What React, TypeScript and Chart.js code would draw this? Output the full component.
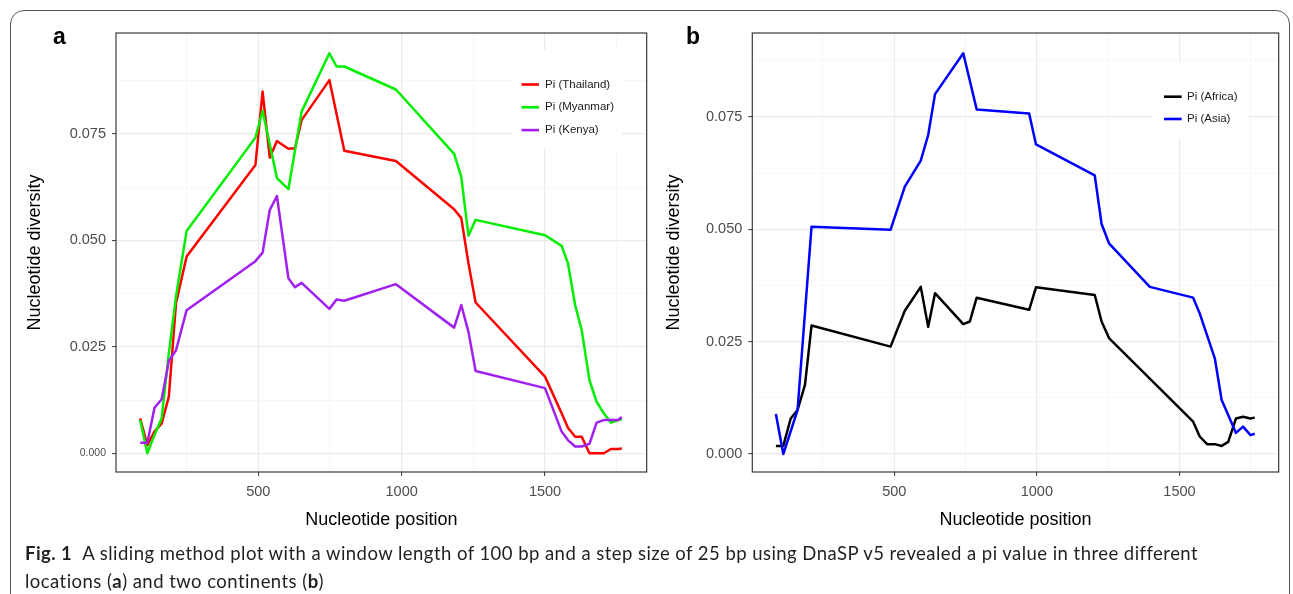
import React, { useEffect, useRef } from "react";
import Chart from "chart.js/auto";

const FONT = "'Liberation Sans', Arimo, Helvetica, Arial, sans-serif";

// sliding-window positions (bp) and pi values, panel a
const positionsA = [
  88, 113, 138, 163, 188, 213, 250, 490, 515, 540, 565, 605, 628, 651, 748, 773, 800, 980,
  1183, 1208, 1233, 1258, 1500, 1558, 1580, 1605, 1628, 1655, 1680, 1705, 1730, 1755, 1768,
];
const piThailand = [
  0.0082, 0.0019, 0.0051, 0.007, 0.0133, 0.0352, 0.0462, 0.0677, 0.0849, 0.0694, 0.0733, 0.0715,
  0.0716, 0.0782, 0.0876, null, 0.071, 0.0686, 0.0573, 0.0552, 0.0446, 0.0354, 0.018, 0.0094,
  0.006, 0.0039, 0.0039, 0.0, 0.0, 0.0, 0.001, 0.001, 0.0011,
];
const piMyanmar = [
  0.0078, 0.0, 0.0043, 0.0082, 0.0235, 0.0368, 0.0522, 0.0741, 0.0804, null, 0.0646, 0.062,
  null, 0.0802, 0.0939, 0.0908, 0.0908, 0.0854, 0.0703, 0.0649, 0.0511, 0.0548, 0.0512, 0.0487,
  0.0446, 0.0348, 0.0289, 0.0172, 0.0121, 0.0094, 0.0072, 0.0078, 0.008,
];
const piKenya = [
  0.0025, 0.0025, 0.0107, 0.0127, 0.0217, 0.0242, 0.0336, 0.0451, 0.0471, 0.0571, 0.0604,
  0.0411, 0.039, 0.04, 0.0339, 0.0361, 0.0358, 0.0397, 0.0295, 0.0348, 0.0285, 0.0193, 0.0153,
  0.0051, 0.0031, 0.0016, 0.0016, 0.0022, 0.0072, 0.0078, 0.0078, 0.0078, 0.0085,
];

// panel b
const positionsB = [
  85, 111, 137, 161, 187, 210, 487, 537, 593, 619, 643, 742, 765, 789, 973, 997, 1203, 1227,
  1253, 1396, 1548, 1571, 1597, 1624, 1648, 1671, 1698, 1723, 1749, 1764,
];
const piAfrica = [
  0.0018, 0.0018, 0.0079, 0.0098, 0.0154, 0.0286, 0.0239, 0.0319, 0.0372, 0.0283, 0.0358,
  0.0289, 0.0295, 0.0348, 0.0321, 0.0371, 0.0354, 0.0295, 0.0258, null, 0.0072, 0.0039, 0.0022,
  0.0022, 0.0018, 0.0027, 0.0079, 0.0083, 0.0079, 0.0081,
];
const piAsia = [
  0.0089, 0.0, null, 0.0098, null, 0.0506, 0.0499, 0.0595, 0.0653, 0.071, 0.0801, 0.0892, null,
  0.0767, 0.0758, 0.0689, 0.062, 0.0512, 0.0469, 0.0372, 0.0348, 0.0313, null, 0.0213, 0.012,
  0.0087, 0.0047, 0.0061, 0.0042, 0.0045,
];

const xTicks = [250, 500, 750, 1000, 1250, 1500, 1750];
const yTicks = [0, 0.0125, 0.025, 0.0375, 0.05, 0.0625, 0.075, 0.0875];

const isMajorX = (v: number) => v % 500 === 0;
const isMajorY = (v: number) => Math.abs(v / 0.025 - Math.round(v / 0.025)) < 1e-6;

// panel border drawn over the lines, like ggplot's panel.border
const panelBorder = {
  id: "panelBorder",
  afterDatasetsDraw(chart: any) {
    const { ctx, chartArea: a } = chart;
    ctx.save();
    ctx.strokeStyle = "#3a3a3a";
    ctx.lineWidth = 1.2;
    ctx.strokeRect(a.left, a.top, a.right - a.left, a.bottom - a.top);
    ctx.restore();
  },
};

// legend sitting inside the plot on a white box
const insetLegend = {
  id: "insetLegend",
  afterDraw(chart: any, _args: any, opts: any) {
    if (!opts || !opts.w) return;
    const { ctx } = chart;
    ctx.save();
    ctx.fillStyle = "#fff";
    ctx.fillRect(opts.x, opts.y, opts.w, opts.h);
    ctx.font = `11.5px ${FONT}`;
    ctx.textBaseline = "middle";
    chart.data.datasets.forEach((ds: any, i: number) => {
      const y = opts.rowY + i * opts.rowGap;
      ctx.strokeStyle = ds.borderColor;
      ctx.lineWidth = 2.6;
      ctx.beginPath();
      ctx.moveTo(opts.lineX, y);
      ctx.lineTo(opts.lineX + opts.lineLen, y);
      ctx.stroke();
      ctx.fillStyle = "#1a1a1a";
      ctx.fillText(ds.label, opts.textX, y);
    });
    ctx.restore();
  },
};

interface Series {
  label: string;
  values: (number | null)[];
  color: string;
  order: number;
}

interface PanelProps {
  positions: number[];
  series: Series[];
  xMin: number;
  xMax: number;
  yMin: number;
  yMax: number;
  left: number;
  width: number;
  height: number;
  plotLeft: number;
  plotTop: number;
  plotRight: number;
  plotBottom: number;
  yTitlePad: number;
  smallZero?: boolean;
  legend: any;
}

function Panel(p: PanelProps) {
  const chartRef = useRef<HTMLCanvasElement | null>(null);

  useEffect(() => {
    if (!chartRef.current) return;
    const ctx = chartRef.current.getContext("2d");
    if (!ctx) return;

    const datasets = p.series.map((s) => ({
      label: s.label,
      data: p.positions.map((x, i) => ({ x, y: s.values[i] })),
      borderColor: s.color,
      backgroundColor: s.color,
      borderWidth: 2.5,
      borderJoinStyle: "round" as const,
      pointRadius: 0,
      tension: 0,
      spanGaps: true,
      fill: false,
      order: s.order,
    }));

    const tickColor = "#4D4D4D";

    const chartInstance = new Chart(ctx, {
      type: "line",
      data: { datasets },
      plugins: [panelBorder, insetLegend],
      options: {
        animation: false,
        responsive: true,
        maintainAspectRatio: false,
        layout: { padding: { top: p.plotTop, right: p.width - p.plotRight, left: 0, bottom: 0 } },
        plugins: {
          legend: { display: false },
          tooltip: { enabled: false },
          // @ts-ignore
          insetLegend: p.legend,
        },
        scales: {
          x: {
            type: "linear",
            min: p.xMin,
            max: p.xMax,
            afterBuildTicks: (s: any) => {
              s.ticks = xTicks.map((v) => ({ value: v }));
            },
            afterFit: (s: any) => {
              s.height = p.height - p.plotBottom;
            },
            ticks: {
              autoSkip: false,
              maxRotation: 0,
              padding: 7,
              color: tickColor,
              font: { family: FONT, size: 14.5 },
              callback: (v: any) => (isMajorX(v) ? String(v) : ""),
            },
            grid: {
              color: (c: any) => (isMajorX(c.tick.value) ? "#EBEBEB" : "#F4F4F4"),
              lineWidth: (c: any) => (isMajorX(c.tick.value) ? 1.2 : 0.7),
              tickColor: (c: any) => (isMajorX(c.tick.value) ? "#333" : "rgba(0,0,0,0)"),
              tickWidth: 1,
              tickLength: 4,
            },
            border: { display: false },
            title: {
              display: true,
              text: "Nucleotide position",
              color: "#000",
              font: { family: FONT, size: 18 },
              padding: { top: 0, bottom: 14 },
            },
          },
          y: {
            type: "linear",
            min: p.yMin,
            max: p.yMax,
            afterBuildTicks: (s: any) => {
              s.ticks = yTicks.map((v) => ({ value: v }));
            },
            afterFit: (s: any) => {
              s.width = p.plotLeft;
            },
            ticks: {
              autoSkip: false,
              padding: 6,
              color: tickColor,
              font: (c: any) => ({
                family: FONT,
                size: p.smallZero && c.tick && c.tick.value === 0 ? 10.5 : 14.5,
              }),
              callback: (v: any) => (isMajorY(v) ? Number(v).toFixed(3) : ""),
            },
            grid: {
              color: (c: any) => (isMajorY(c.tick.value) ? "#EBEBEB" : "#F4F4F4"),
              lineWidth: (c: any) => (isMajorY(c.tick.value) ? 1.2 : 0.7),
              tickColor: (c: any) => (isMajorY(c.tick.value) ? "#333" : "rgba(0,0,0,0)"),
              tickWidth: 1,
              tickLength: 4,
            },
            border: { display: false },
            title: {
              display: true,
              text: "Nucleotide diversity",
              color: "#000",
              font: { family: FONT, size: 18 },
              padding: { top: p.yTitlePad, bottom: 0 },
            },
          },
        },
      },
    });

    return () => {
      chartInstance.destroy();
    };
  }, []);

  return (
    <div style={{ position: "absolute", left: p.left, top: 0, width: p.width, height: p.height }}>
      <canvas ref={chartRef} />
    </div>
  );
}

const letterStyle: React.CSSProperties = {
  position: "absolute",
  top: 25,
  fontFamily: FONT,
  fontWeight: "bold",
  fontSize: 23,
  lineHeight: "23px",
  color: "#000",
};

export default function App() {
  return (
    <div
      style={{
        position: "absolute",
        left: 0,
        top: 0,
        width: 1293,
        height: 594,
        overflow: "hidden",
        background: "#fff",
      }}
    >
      <div
        style={{
          position: "absolute",
          left: 10,
          top: 10,
          width: 1280,
          height: 640,
          boxSizing: "border-box",
          border: "1.3px solid #555",
          borderRadius: 14,
        }}
      />
      <Panel
        positions={positionsA}
        series={[
          { label: "Pi (Thailand)", values: piThailand, color: "#FF0000", order: 3 },
          { label: "Pi (Myanmar)", values: piMyanmar, color: "#00EE00", order: 2 },
          { label: "Pi (Kenya)", values: piKenya, color: "#A020F0", order: 1 },
        ]}
        xMin={3.7}
        xMax={1854.7}
        yMin={-0.00439}
        yMax={0.09866}
        left={0}
        width={660}
        height={545}
        plotLeft={116}
        plotTop={33}
        plotRight={646.7}
        plotBottom={472}
        yTitlePad={24}
        smallZero
        legend={{ x: 512, y: 50, w: 110, h: 98, rowY: 84.5, rowGap: 22.8, lineX: 521.5, lineLen: 17.5, textX: 545 }}
      />
      <Panel
        positions={positionsB}
        series={[
          { label: "Pi (Africa)", values: piAfrica, color: "#000000", order: 2 },
          { label: "Pi (Asia)", values: piAsia, color: "#0000FF", order: 1 },
        ]}
        xMin={2.3}
        xMax={1848}
        yMin={-0.004}
        yMax={0.0937}
        left={650}
        width={643}
        height={545}
        plotLeft={102.3}
        plotTop={33}
        plotRight={628.7}
        plotBottom={472}
        yTitlePad={13.5}
        legend={{ x: 503, y: 62, w: 94, h: 76, rowY: 96.7, rowGap: 22.3, lineX: 514, lineLen: 17.7, textX: 537 }}
      />
      <div style={{ ...letterStyle, left: 53 }}>a</div>
      <div style={{ ...letterStyle, left: 686 }}>b</div>
      <div
        style={{
          position: "absolute",
          left: 25,
          top: 539,
          whiteSpace: "nowrap",
          fontFamily: "Lato, 'Open Sans', sans-serif",
          fontSize: 18.5,
          letterSpacing: "0.45px",
          lineHeight: "28px",
          color: "#231f20",
        }}
      >
        <b>Fig. 1</b>
        <span style={{ marginLeft: 10 }}>
          A sliding method plot with a window length of 100 bp and a step size of 25 bp using DnaSP
          v5 revealed a pi value in three different
        </span>
        <br />
        locations (<b>a</b>) and two continents (<b>b</b>)
      </div>
    </div>
  );
}
